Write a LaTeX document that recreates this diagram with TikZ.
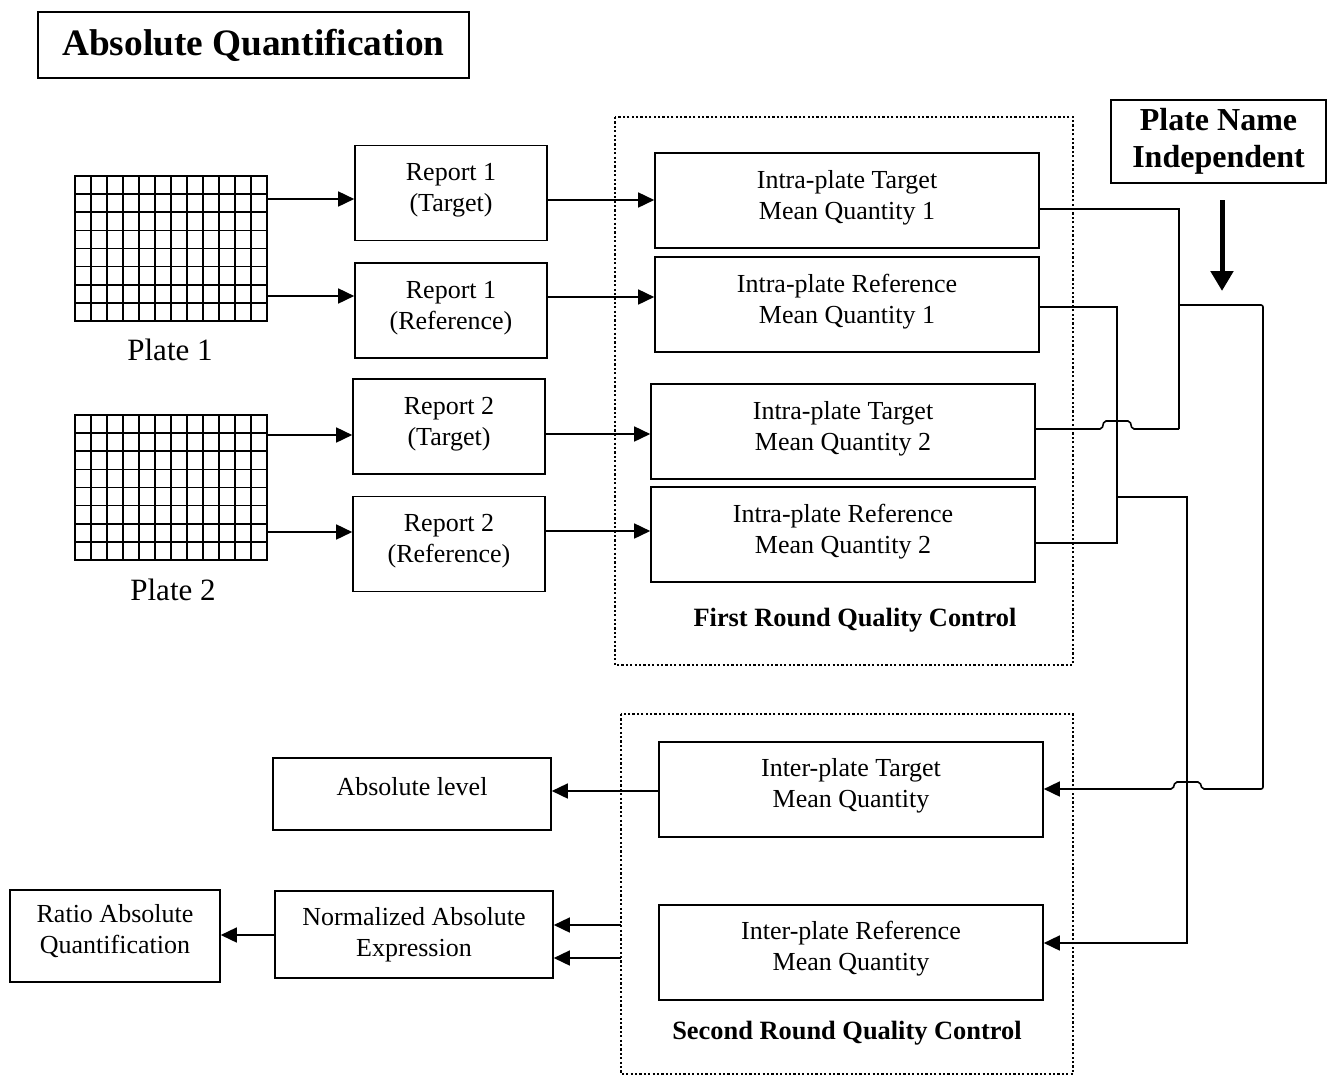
\documentclass[tikz,border=0pt]{standalone}
\usepackage{fontspec}
\setmainfont{Liberation Serif}
\usetikzlibrary{arrows.meta,calc}
\begin{document}
\begin{tikzpicture}[x=1pt,y=-1pt, line width=1.6pt,
  box/.style={draw, rectangle, align=center, inner sep=0pt, font=\fontsize{26}{31}\selectfont},
  rbox/.style={box, minimum width=192pt, minimum height=95pt, text depth=11pt},
  ibox/.style={box, minimum width=384pt, minimum height=95pt, text depth=12pt},
  qcbox/.style={draw, dash pattern=on 2.2pt off 2.2pt, line width=2.2pt},
  arr/.style={-{Triangle[length=16pt,width=15pt]}},
  bigarr/.style={line width=5pt, -{Triangle[length=20pt,width=22pt]}},
  qclbl/.style={font=\bfseries\fontsize{26.4}{30}\selectfont},
  plbl/.style={font=\fontsize{31}{36}\selectfont},
  plate/.style={draw, rectangle, inner sep=0pt, minimum width=192pt, minimum height=145pt}]
\useasboundingbox (0,0) rectangle (1333,1076);

% title
\node[draw, rectangle, inner sep=0pt, minimum width=431pt, minimum height=66pt,
      font=\bfseries\fontsize{37.3}{40}\selectfont] (title) at (253.5,45) {Absolute Quantification};

% plates
\node[plate] (p1) at (171,248.5) {};
\node[plate] (p2) at (171,487.5) {};
\foreach \i in {1,...,11} {
  \draw (75+16*\i,176) -- (75+16*\i,321);
  \draw (75+16*\i,415) -- (75+16*\i,560);
}
\foreach \j in {1,...,7} {
  \draw (75,176+18.125*\j) -- (267,176+18.125*\j);
  \draw (75,415+18.125*\j) -- (267,415+18.125*\j);
}
\node[plbl] (p1l) at (170,350) {Plate 1};
\node[plbl] (p2l) at (173,590) {Plate 2};

% reports
\node[rbox] (r1t) at (451,193) {Report 1\\(Target)};
\node[rbox] (r1r) at (451,310.5) {Report 1\\(Reference)};
\node[rbox] (r2t) at (449,426.5) {Report 2\\(Target)};
\node[rbox] (r2r) at (449,544) {Report 2\\(Reference)};

% first QC
\draw[qcbox] (615,117) rectangle (1073,665);
\node[ibox] (i1t) at (847,200.5) {Intra-plate Target\\Mean Quantity 1};
\node[ibox] (i1r) at (847,304.5) {Intra-plate Reference\\Mean Quantity 1};
\node[ibox] (i2t) at (843,431.5) {Intra-plate Target\\Mean Quantity 2};
\node[ibox] (i2r) at (843,534.5) {Intra-plate Reference\\Mean Quantity 2};
\node[qclbl] (qc1) at (855,620) {First Round Quality Control};

% plate name independent
\node[box, minimum width=215pt, minimum height=83pt,
      font=\bfseries\fontsize{32}{37}\selectfont] (pni) at (1218.5,141.5) {Plate Name\\Independent};
\coordinate (pnis) at (1222,200);
\coordinate (pnie) at (1222,291);
\draw[bigarr] (pnis) -- (pnie);

% second QC
\draw[qcbox] (621,714) rectangle (1073,1074);
\node[ibox, text depth=14pt] (gt) at (851,789.5) {Inter-plate Target\\Mean Quantity};
\node[ibox, text depth=14pt] (gr) at (851,952.5) {Inter-plate Reference\\Mean Quantity};
\node[qclbl] (qc2) at (847,1033) {Second Round Quality Control};

% outputs
\node[box, minimum width=278pt, minimum height=72pt, text depth=16pt] (abs) at (412,794) {Absolute level};
\node[box, minimum width=278pt, minimum height=87pt] (nae) at (414,934.5) {Normalized Absolute\\Expression};
\node[box, minimum width=210pt, minimum height=92pt, text depth=15pt] (raq) at (115,936) {Ratio Absolute\\Quantification};

% plate -> report arrows
\draw[arr] (p1.east |- 0,199) -- (r1t.west |- 0,199);
\draw[arr] (p1.east |- 0,296) -- (r1r.west |- 0,296);
\draw[arr] (p2.east |- 0,435) -- (r2t.west |- 0,435);
\draw[arr] (p2.east |- 0,532) -- (r2r.west |- 0,532);

% report -> intra arrows
\draw[arr] (r1t.east |- 0,200) -- (i1t.west |- 0,200);
\draw[arr] (r1r.east |- 0,297) -- (i1r.west |- 0,297);
\draw[arr] (r2t.east |- 0,434) -- (i2t.west |- 0,434);
\draw[arr] (r2r.east |- 0,531) -- (i2r.west |- 0,531);

% wiring: targets
\draw (i1t.east |- 0,209) -- (1179,209) -- (1179,429);
\draw[rounded corners=2pt] (i2t.east |- 0,429) -- (1102,429) -- (1104,421) -- (1130,421) -- (1132,429) -- (1179,429);
\draw[arr, rounded corners=2pt] (1179,305) -- (1263,305) -- (1263,789) -- (1202,789) -- (1200,782) -- (1175,782) -- (1173,789) -- (gt.east |- 0,789);

% wiring: references
\draw (i1r.east |- 0,307) -- (1117,307) -- (1117,543) -- (i2r.east |- 0,543);
\draw[arr] (1117,497) -- (1187,497) -- (1187,943) -- (gr.east |- 0,943);

% outputs arrows
\draw[arr] (gt.west |- 0,791) -- (abs.east |- 0,791);
\coordinate (n1) at (621,925);
\coordinate (n2) at (621,958);
\draw[arr] (n1) -- (nae.east |- n1);
\draw[arr] (n2) -- (nae.east |- n2);
\draw[arr] (nae.west |- 0,935) -- (raq.east |- 0,935);
\end{tikzpicture}
\end{document}
